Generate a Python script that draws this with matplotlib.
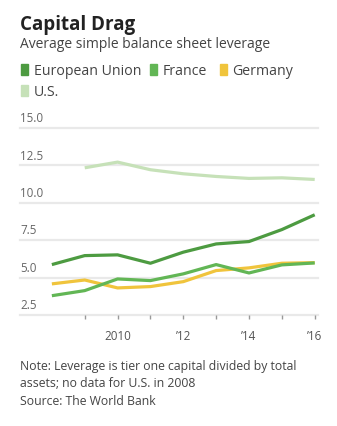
import matplotlib
matplotlib.use("Agg")
import matplotlib.pyplot as plt
from matplotlib.patches import Rectangle
import matplotlib.transforms as mtransforms

plt.rcParams['font.family'] = ['Open Sans', 'DejaVu Sans']

years = [2008, 2009, 2010, 2011, 2012, 2013, 2014, 2015, 2016]
us_years = [2009, 2010, 2011, 2012, 2013, 2014, 2015, 2016]
eu = [5.87, 6.47, 6.52, 5.96, 6.70, 7.25, 7.41, 8.21, 9.20]
france = [3.79, 4.13, 4.91, 4.80, 5.25, 5.87, 5.31, 5.85, 5.98]
germany = [4.58, 4.84, 4.31, 4.40, 4.73, 5.47, 5.65, 5.96, 6.00]
us = [12.34, 12.72, 12.21, 11.94, 11.76, 11.63, 11.67, 11.56]

series_names = ["European Union", "France", "Germany", "U.S."]
colors = ["#4d9b41", "#62b655", "#f0c43c", "#c6e1b8"]

y_ticks = [2.5, 5.0, 7.5, 10.0, 12.5, 15.0]
y_labels = ["2.5", "5.0", "7.5", "10.0", "12.5", "15.0"]
x_ticks = [2010, 2012, 2014, 2016]
x_labels = ["2010", "\u201912", "\u201914", "\u201916"]
minor_ticks = [2009, 2010, 2011, 2012, 2013, 2014, 2015, 2016]

W, H = 337, 427
fig = plt.figure(figsize=(W / 100, H / 100), dpi=100)

def fx(px):
    return px / W

def fy(py):
    return 1 - py / H

ax = fig.add_axes([fx(20), fy(316), fx(318) - fx(20), fy(129) - fy(316)])
ax.set_xlim(2007.03, 2016.1)
ax.set_ylim(2.5, 15.0)
for s in ax.spines.values():
    s.set_visible(False)
ax.set_yticks([])
for yt in y_ticks:
    ax.axhline(yt, color="#e9e9e9", lw=1.6, zorder=0, clip_on=False)

ax.plot(us_years, us, color=colors[3], lw=2.3, solid_capstyle='butt', zorder=2)
ax.plot(years, germany, color=colors[2], lw=2.3, solid_capstyle='butt', zorder=3)
ax.plot(years, france, color=colors[1], lw=2.3, solid_capstyle='butt', zorder=4)
ax.plot(years, eu, color=colors[0], lw=2.3, solid_capstyle='butt', zorder=5)

trans = mtransforms.blended_transform_factory(ax.transAxes, ax.transData)
for yt, lab in zip(y_ticks, y_labels):
    ax.text(0.0, yt + 0.25, lab, transform=trans, ha='left', va='bottom',
            fontsize=8.4, color="#666666")

ax.set_xticks(minor_ticks)
ax.set_xticklabels([])
ax.tick_params(axis='x', length=3, width=1, color="#999999", pad=2)
for xt, lab in zip(x_ticks, x_labels):
    ax.text(xt, -0.075, lab, transform=mtransforms.blended_transform_factory(ax.transData, ax.transAxes),
            ha='center', va='top', fontsize=8.4, color="#555555")

# Title, subtitle
fig.text(fx(20), fy(30), "Capital Drag", fontsize=13.5, fontweight='bold',
         color="#222222", ha='left', va='baseline')
fig.text(fx(20), fy(48.5), "Average simple balance sheet leverage", fontsize=10,
         color="#444444", ha='left', va='baseline')

# Legend
leg_pos = [(21, 70.5), (150, 70.5), (220, 70.5), (21, 91.5)]
for name, c, (px, py) in zip(series_names, colors, leg_pos):
    fig.patches.append(Rectangle((fx(px), fy(py + 5.5)), fx(7), 11 / H,
                                 transform=fig.transFigure, color=c))
    fig.text(fx(px + 12.5), fy(py + 4.5), name, fontsize=10.2, color="#444444",
             ha='left', va='baseline')

# Notes
notes = ["Note: Leverage is tier one capital divided by total",
         "assets; no data for U.S. in 2008",
         "Source: The World Bank"]
for i, line in enumerate(notes):
    fig.text(fx(20), fy(370 + i * 17.5), line, fontsize=8.8, color="#444444",
             ha='left', va='baseline')

fig.savefig("out.png", dpi=100)
